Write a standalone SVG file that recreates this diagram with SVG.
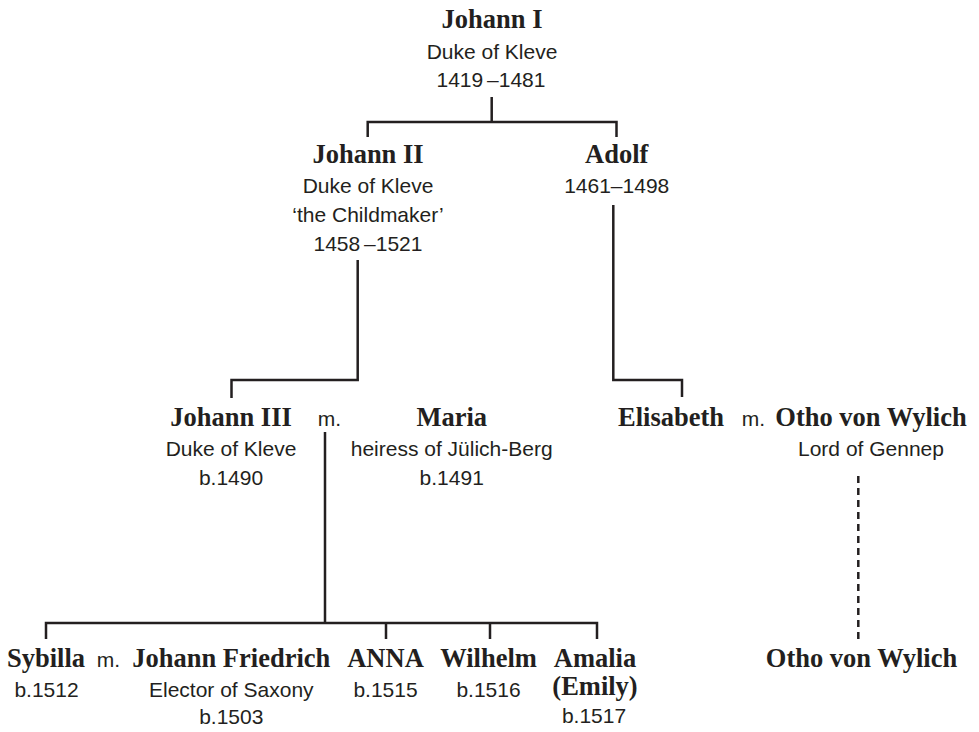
<svg xmlns="http://www.w3.org/2000/svg" width="979" height="732" viewBox="0 0 979 732">
<style>
  .bg { fill: #ffffff; }
  .n { font-family: "Liberation Serif", "Times New Roman", serif; font-weight: bold; font-size: 26.5px; fill: #231f20; text-anchor: middle; }
  .s { font-family: "Liberation Sans", Arial, sans-serif; font-size: 21px; fill: #231f20; text-anchor: middle; }
  .d { word-spacing: -2px; }
  .m { font-family: "Liberation Sans", Arial, sans-serif; font-size: 21px; fill: #231f20; text-anchor: start; }
  .ln { fill: none; stroke: #231f20; stroke-width: 2.5; stroke-linecap: butt; stroke-linejoin: miter; }
  .dash { fill: none; stroke: #231f20; stroke-width: 2.5; stroke-dasharray: 7 5; }
</style>
<rect class="bg" x="0" y="0" width="979" height="732"/>

<g id="connectors">
  <path class="ln" d="M491.7,97 V122 M367.7,137 V122 H616.5 V137"/>
  <path class="ln" d="M357.7,260 V380 H231.5 V398"/>
  <path class="ln" d="M613.3,205 V380 H682 V397"/>
  <path class="ln" d="M325,432 V623 M46,639 V623 H597 V639 M386,623 V639 M490,623 V639"/>
  <path class="dash" d="M858.3,476 V640"/>
</g>

<g id="johann-i">
  <text class="n" x="492" y="28">Johann I</text>
  <text class="s" x="492" y="59">Duke of Kleve</text>
  <text class="s d" x="491" y="87">1419 –1481</text>
</g>

<g id="johann-ii">
  <text class="n" x="368" y="163">Johann II</text>
  <text class="s" x="368" y="192.5">Duke of Kleve</text>
  <text class="s" x="368" y="221.5">‘the Childmaker’</text>
  <text class="s d" x="368" y="250.5">1458 –1521</text>
</g>

<g id="adolf">
  <text class="n" x="616.7" y="163">Adolf</text>
  <text class="s" x="616.7" y="192.5">1461–1498</text>
</g>

<g id="johann-iii">
  <text class="n" x="231" y="425.7">Johann III</text>
  <text class="s" x="231" y="456">Duke of Kleve</text>
  <text class="s" x="231" y="485">b.1490</text>
</g>
<g id="marriage-johann-iii">
  <text class="m" x="317.7" y="425.7">m.</text>
</g>
<g id="maria">
  <text class="n" x="451.7" y="425.7">Maria</text>
  <text class="s" x="451.7" y="456">heiress of Jülich-Berg</text>
  <text class="s" x="451.7" y="485">b.1491</text>
</g>

<g id="elisabeth">
  <text class="n" x="671" y="425.7">Elisabeth</text>
</g>
<g id="marriage-elisabeth">
  <text class="m" x="741.7" y="425.7">m.</text>
</g>
<g id="otho-von-wylich-sr">
  <text class="n" x="871" y="425.7">Otho von Wylich</text>
  <text class="s" x="871" y="455.7">Lord of Gennep</text>
</g>

<g id="sybilla">
  <text class="n" x="46" y="666.7">Sybilla</text>
  <text class="s" x="46.5" y="696.7">b.1512</text>
</g>
<g id="marriage-sybilla">
  <text class="m" x="96.7" y="666.7">m.</text>
</g>
<g id="johann-friedrich">
  <text class="n" x="231.3" y="666.7">Johann Friedrich</text>
  <text class="s" x="231.3" y="696.7">Elector of Saxony</text>
  <text class="s" x="231.3" y="724.3">b.1503</text>
</g>
<g id="anna">
  <text class="n" x="385.5" y="666.7">ANNA</text>
  <text class="s" x="385.5" y="696.7">b.1515</text>
</g>
<g id="wilhelm">
  <text class="n" x="488.5" y="666.7">Wilhelm</text>
  <text class="s" x="488.5" y="696.7">b.1516</text>
</g>
<g id="amalia">
  <text class="n" x="595" y="666.7">Amalia</text>
  <text class="n" x="595" y="695">(Emily)</text>
  <text class="s" x="594" y="723">b.1517</text>
</g>
<g id="otho-von-wylich-jr">
  <text class="n" x="861.5" y="666.7">Otho von Wylich</text>
</g>
</svg>
